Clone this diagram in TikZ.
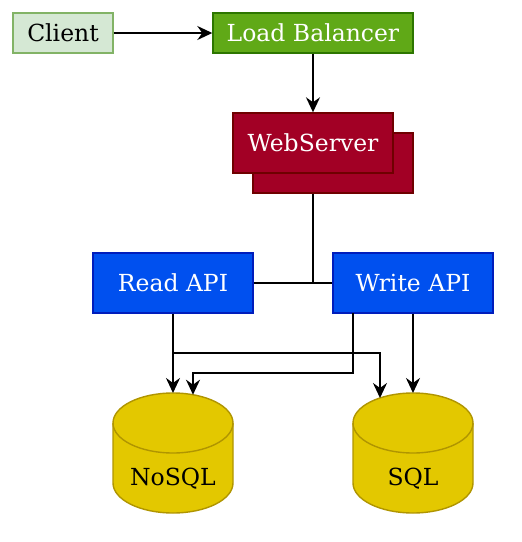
\documentclass[tikz,border=0pt]{standalone}
\usepackage{fontspec}
\setmainfont{DejaVu Serif}
\usetikzlibrary{arrows.meta}
\definecolor{clientfill}{HTML}{D5E8D4}
\definecolor{clientline}{HTML}{82B366}
\definecolor{lbfill}{HTML}{60A917}
\definecolor{lbline}{HTML}{2D7600}
\definecolor{wsfill}{HTML}{A20025}
\definecolor{wsline}{HTML}{6F0000}
\definecolor{apifill}{HTML}{0050EF}
\definecolor{apiline}{HTML}{001DBC}
\definecolor{dbfill}{HTML}{E3C800}
\definecolor{dbline}{HTML}{B09500}
\tikzset{
  txt/.style={font=\fontsize{23.5}{28}\selectfont},
  box/.style={rectangle, draw, line width=1.4pt, inner sep=0pt, txt},
  clientbox/.style={box, fill=clientfill, draw=clientline, minimum width=100pt, minimum height=40pt},
  lbbox/.style={box, fill=lbfill, draw=lbline, text=white, minimum width=200pt, minimum height=40pt},
  wsbox/.style={box, fill=wsfill, draw=wsline, text=white, minimum width=160pt, minimum height=60pt},
  apibox/.style={box, fill=apifill, draw=apiline, text=white, minimum width=160pt, minimum height=60pt},
  dbshape/.style={fill=dbfill, draw=dbline, line width=1.4pt},
  dblabel/.style={inner sep=0pt, txt},
  conn/.style={line width=2pt, black},
  arr/.style={conn, -{Stealth[length=15pt, width=14pt, inset=5pt]}},
}
\begin{document}
\begin{tikzpicture}[x=1pt, y=-1pt]
\useasboundingbox (0,0) rectangle (522,542);
% nodes
\node[clientbox] (client) at (63,33) {Client};
\node[lbbox] (lb) at (313,33) {Load Balancer};
\node[wsbox] (wsback) at (333,163) {};
\node[wsbox] (ws) at (313,143) {WebServer};
\node[apibox] (read) at (173,283) {Read API};
\node[apibox] (write) at (413,283) {Write API};
% cylinders
\foreach \cx in {173, 413}{
  \path[dbshape] (\cx-60,423) -- (\cx-60,483) arc[start angle=180, end angle=0, x radius=60, y radius=30]
     -- (\cx+60,423) arc[start angle=0, end angle=-180, x radius=60, y radius=30] -- cycle;
  \draw[dbshape, fill=none] (\cx-60,423) arc[start angle=180, end angle=0, x radius=60, y radius=30];
}
\node[dblabel] (nosql) at (173,479) {NoSQL};
\node[dblabel] (sql) at (413,479) {SQL};
\coordinate (nosqlA) at (173,393);
\coordinate (nosqlB) at (193,394.7);
\coordinate (sqlA) at (380,398);
\coordinate (sqlB) at (413,393);
\coordinate (join) at (313,283);
% connectors
\draw[arr] (client.east) -- (lb.west);
\draw[arr] (lb.south) -- (ws.north);
\draw[conn] (wsback.south -| ws.south) -- (join);
\draw[conn] (read.east) -- (write.west);
\draw[arr] (read.south) -- (nosqlA);
\draw[arr] (read.south |- 0,353) -- (380,353) -- (sqlA);
\draw[arr] (353,313) -- (353,373) -- (193,373) -- (nosqlB);
\draw[arr] (write.south) -- (sqlB);
\end{tikzpicture}
\end{document}
